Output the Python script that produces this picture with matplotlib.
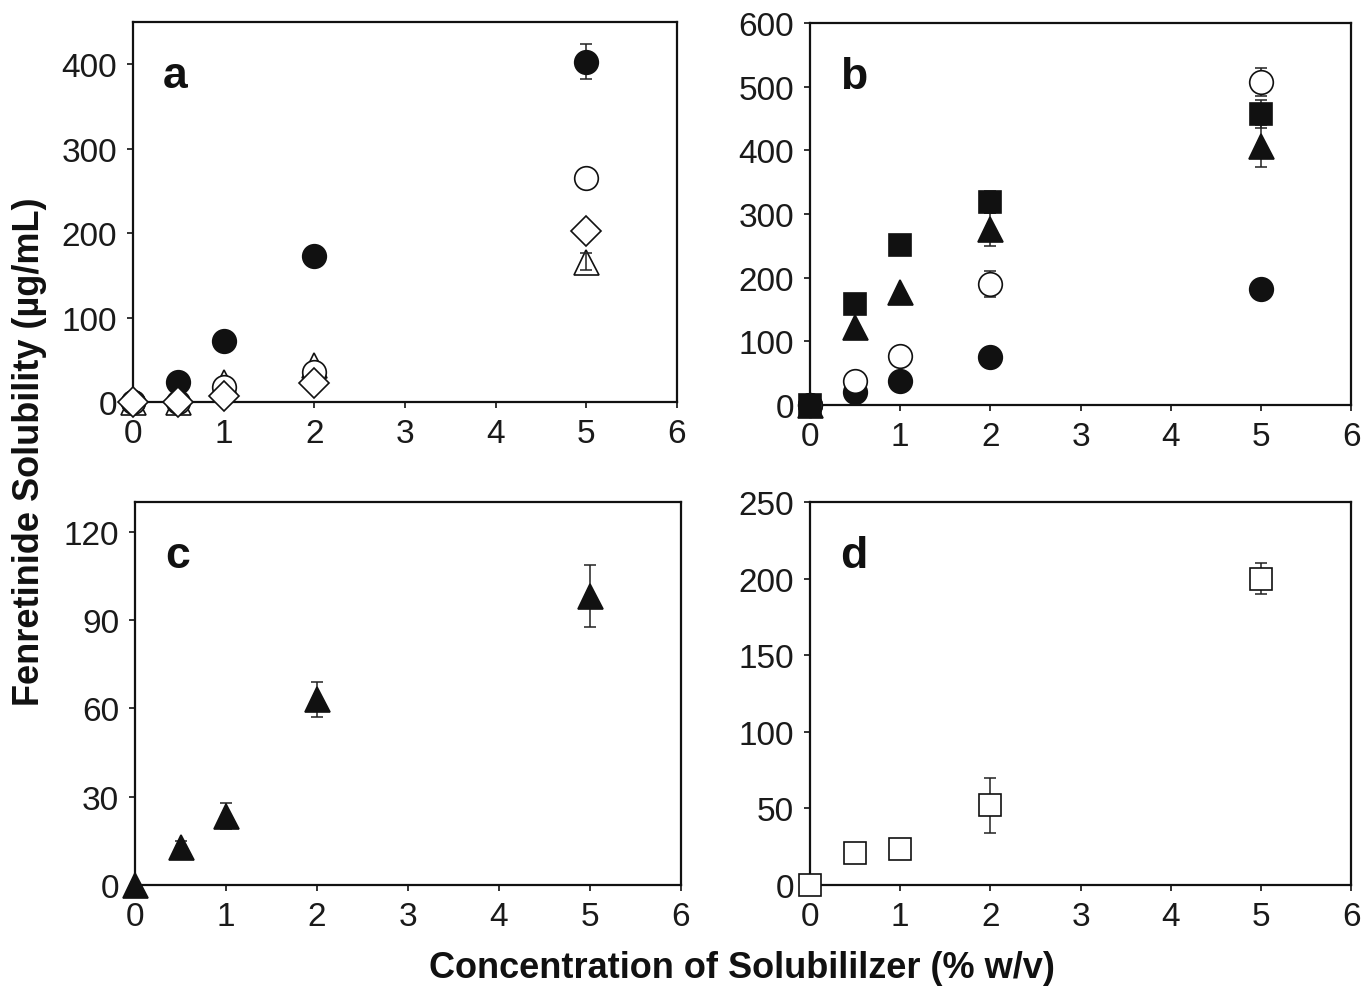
import matplotlib.pyplot as plt

plt.rcParams["font.family"] = ["Liberation Sans", "DejaVu Sans"]

conc = [0, 0.5, 1, 2, 5]

# panel a
a_filled_circle = [0, 24, 72, 173, 403]
a_filled_circle_err = [0, 0, 0, 0, 21]
a_open_triangle = [0, 0, 24, 44, 166]
a_open_triangle_err = [0, 0, 0, 0, 10]
a_open_circle = [0, 0, 18, 35, 265]
a_diamond = [0, 0, 7, 22, 202]

# panel b
b_filled_circle = [0, 20, 38, 75, 182]
b_open_circle = [0, 38, 77, 190, 507]
b_open_circle_err = [0, 0, 0, 20, 22]
b_triangle = [0, 123, 177, 276, 407]
b_triangle_err = [0, 0, 0, 26, 33]
b_square = [0, 159, 251, 319, 457]
b_square_err = [0, 0, 0, 17, 22]

# panel c
c_triangle = [0, 13, 23.5, 63, 98]
c_triangle_err = [0, 2, 4.5, 6, 10.5]

# panel d
d_square = [0, 21, 23.6, 52, 200]
d_square_err = [0, 0, 0, 18, 10]

fig = plt.figure(figsize=(13.61, 9.87), dpi=100)

ax_a = fig.add_axes([0.0977, 0.5917, 0.3997, 0.385])
ax_b = fig.add_axes([0.5952, 0.5887, 0.3975, 0.387])
ax_c = fig.add_axes([0.0992, 0.1023, 0.4012, 0.388])
ax_d = fig.add_axes([0.5952, 0.1023, 0.3975, 0.388])


def errbars(ax, y, err, z=2):
    # only points with a real error bar
    xs = [c for c, e in zip(conc, err) if e > 0]
    ys = [v for v, e in zip(y, err) if e > 0]
    es = [e for e in err if e > 0]
    ax.errorbar(xs, ys, yerr=es, fmt="none", ecolor="#222222",
                elinewidth=1.1, capsize=4.5, capthick=1.1, clip_on=False, zorder=z)


def series(ax, y, marker, face, ms, err=None):
    if err is not None:
        errbars(ax, y, err)
    ax.plot(conc, y, linestyle="none", marker=marker, markersize=ms,
            markerfacecolor=face, markeredgecolor="#111111",
            markeredgewidth=1.2, clip_on=False, zorder=3)


series(ax_a, a_filled_circle, "o", "#111111", 17, a_filled_circle_err)
series(ax_a, a_open_triangle, "^", "white", 18)
errbars(ax_a, a_open_triangle, a_open_triangle_err, z=4)
series(ax_a, a_open_circle, "o", "white", 17)
series(ax_a, a_diamond, "D", "white", 15)

series(ax_b, b_filled_circle, "o", "#111111", 17)
series(ax_b, b_open_circle, "o", "white", 17, b_open_circle_err)
series(ax_b, b_triangle, "^", "#111111", 18, b_triangle_err)
series(ax_b, b_square, "s", "#111111", 16, b_square_err)

series(ax_c, c_triangle, "^", "#111111", 18, c_triangle_err)

series(ax_d, d_square, "s", "white", 16, d_square_err)

limits = {ax_a: (450, [0, 100, 200, 300, 400]),
          ax_b: (600, [0, 100, 200, 300, 400, 500, 600]),
          ax_c: (130, [0, 30, 60, 90, 120]),
          ax_d: (250, [0, 50, 100, 150, 200, 250])}

for ax, label in zip([ax_a, ax_b, ax_c, ax_d], ["a", "b", "c", "d"]):
    top, yt = limits[ax]
    ax.set_xlim(0, 6)
    ax.set_ylim(0, top)
    ax.set_xticks(range(7))
    ax.set_yticks(yt)
    ax.tick_params(labelsize=24, length=4.5, width=1.2, pad=7, direction="out",
                   colors="#111111", labelcolor="#1a1a1a")
    for s in ax.spines.values():
        s.set_linewidth(1.6)
        s.set_color("#111111")
    ax.text(0.055, 0.86, label, transform=ax.transAxes, fontsize=32,
            fontweight="bold", va="center", ha="left", color="#111111")

fig.text(0.022, 0.542, "Fenretinide Solubility (\u00b5g/mL)", rotation=90,
         fontsize=26, fontweight="bold", ha="center", va="center", color="#111111")
fig.text(0.545, 0.019, "Concentration of Solubililzer (% w/v)",
         fontsize=26, fontweight="bold", ha="center", va="center", color="#111111")

plt.savefig("out.png", dpi=100)
